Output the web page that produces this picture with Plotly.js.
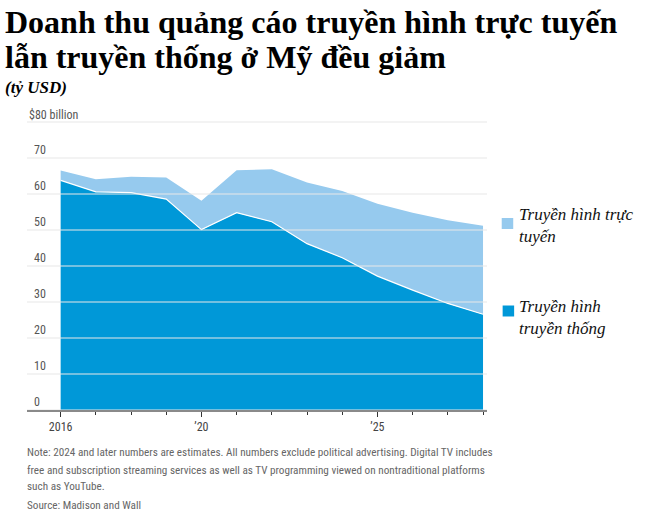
<!DOCTYPE html>
<html>
<head>
<meta charset="utf-8">
<script src="https://cdn.plot.ly/plotly-3.0.1.min.js"></script>
<style>
html,body{margin:0;padding:0;background:#fff;}
#chart{width:652px;height:529px;}
</style>
</head>
<body>
<div id="chart"></div>
<script>
// Data (billions USD)
const years = [2016, 2017, 2018, 2019, 2020, 2021, 2022, 2023, 2024, 2025, 2026, 2027, 2028];
const traditionalTV = [63.8, 60.6, 60.4, 58.6, 50.1, 54.8, 52.3, 46.2, 42.3, 37.2, 33.3, 29.6, 26.6];
const digitalTV = [2.7, 3.5, 4.4, 6.0, 8.0, 11.8, 14.6, 17.0, 18.5, 20.1, 21.5, 23.1, 24.6];

const yTickVals = [0, 10, 20, 30, 40, 50, 60, 70];
const yTickText = ["0", "10", "20", "30", "40", "50", "60", "70"];
const yTopVal = 80;
const yTopText = "$80 billion";
const xTickVals = [2016, 2020, 2025];
const xTickText = ["2016", "\u201920", "\u201925"];

const seriesNames = ["Truyền hình truyền thống", "Truyền hình trực tuyến"];
const legendLabels = ["Truyền hình trực<br>tuyến", "Truyền hình<br>truyền thống"];
const titleLines = ["Doanh thu quảng cáo truyền hình trực tuyến", "lẫn truyền thống ở Mỹ đều giảm"];
const unitText = "(tỷ USD)";
const noteLines = [
  "Note: 2024 and later numbers are estimates. All numbers exclude political advertising. Digital TV includes",
  "free and subscription streaming services as well as TV programming viewed on nontraditional platforms",
  "such as YouTube.",
  "Source: Madison and Wall"
];

const darkBlue = "#0098d8";
const lightBlue = "#96caee";
const serif = "Liberation Serif, Times New Roman, serif";
const sansC = "Roboto Condensed, Roboto, sans-serif";

const traces = [
  {
    x: years, y: traditionalTV, name: seriesNames[0],
    type: "scatter", mode: "lines", stackgroup: "tv",
    fillcolor: darkBlue, line: {color: "#ffffff", width: 1.2}
  },
  {
    x: years, y: digitalTV, name: seriesNames[1],
    type: "scatter", mode: "lines", stackgroup: "tv",
    fillcolor: lightBlue, line: {color: lightBlue, width: 0}
  }
];

const gridShapes = yTickVals.concat([yTopVal]).map(v => ({
  type: "line", xref: "paper", yref: "y", x0: 0, x1: 1, y0: v, y1: v,
  line: {color: "rgba(232,232,232,0.5)", width: 2}, layer: "above"
}));

// plot area: y=0 at 410px, 3.6 px per unit, top at 104px (height 306)
const legendShapes = [
  {type: "rect", xref: "paper", yref: "paper", x0: 1.032, x1: 1.057, y0: 0.5915, y1: 0.6275,
   fillcolor: lightBlue, line: {width: 0}},
  {type: "rect", xref: "paper", yref: "paper", x0: 1.034, x1: 1.059, y0: 0.3056, y1: 0.3415,
   fillcolor: darkBlue, line: {width: 0}}
];

const noteYs = [-0.1405, -0.1961, -0.2516, -0.3105];
const noteAnns = noteLines.map((t, i) => ({
  text: t, xref: "paper", yref: "paper", x: -0.004, y: noteYs[i], xanchor: "left", yanchor: "middle",
  align: "left", showarrow: false, font: {family: sansC, size: 11.2, color: "#666"}
}));

const layout = {
  width: 652, height: 529,
  margin: {l: 27, r: 164.7, t: 104, b: 119, pad: 0},
  paper_bgcolor: "#fff", plot_bgcolor: "#fff",
  showlegend: false,
  xaxis: {
    range: [2015.044, 2028.113],
    tickmode: "array", tickvals: xTickVals, ticktext: xTickText,
    ticks: "outside", ticklen: 5, tickcolor: "#333", tickwidth: 1,
    minor: {tickmode: "linear", tick0: 2016, dtick: 1, ticks: "outside", ticklen: 3, tickcolor: "#333", tickwidth: 1, showgrid: false},
    showgrid: false, zeroline: false,
    showline: true, linecolor: "#8a8a8a", linewidth: 2,
    ticklabelstandoff: 0,
    tickfont: {family: sansC, size: 12, color: "#444"},
    fixedrange: true
  },
  yaxis: {
    range: [0, 85],
    tickmode: "array", tickvals: yTickVals, ticktext: yTickText,
    ticklabelposition: "inside top", ticks: "", ticklabelstandoff: 4,
    showgrid: false, zeroline: false, showline: false,
    tickfont: {family: sansC, size: 12, color: "#555"},
    fixedrange: true
  },
  shapes: gridShapes.concat(legendShapes),
  annotations: [
    {text: yTopText, xref: "paper", yref: "y", x: 0, y: yTopVal, xanchor: "left", yanchor: "bottom", yshift: -2,
     showarrow: false, font: {family: sansC, size: 12, color: "#555"}},
    {text: "<b>" + titleLines[0] + "</b>", xref: "paper", yref: "paper", x: -0.052, y: 1.268, xanchor: "left", yanchor: "middle",
     showarrow: false, font: {family: serif, size: 32, color: "#000"}},
    {text: "<b>" + titleLines[1] + "</b>", xref: "paper", yref: "paper", x: -0.052, y: 1.1536, xanchor: "left", yanchor: "middle",
     showarrow: false, font: {family: serif, size: 32, color: "#000"}},
    {text: "<b><i>" + unitText + "</i></b>", xref: "paper", yref: "paper", x: -0.052, y: 1.054, xanchor: "left", yanchor: "middle",
     showarrow: false, font: {family: serif, size: 17, color: "#000"}},
    {text: "<i>" + legendLabels[0] + "</i>", xref: "paper", yref: "paper", x: 1.066, y: 0.6778, xanchor: "left", yanchor: "top",
     align: "left", showarrow: false, font: {family: serif, size: 17, color: "#111"}},
    {text: "<i>" + legendLabels[1] + "</i>", xref: "paper", yref: "paper", x: 1.066, y: 0.3768, xanchor: "left", yanchor: "top",
     align: "left", showarrow: false, font: {family: serif, size: 17, color: "#111"}}
  ].concat(noteAnns)
};

Plotly.newPlot("chart", traces, layout, {displayModeBar: false, staticPlot: true});
</script>
</body>
</html>
